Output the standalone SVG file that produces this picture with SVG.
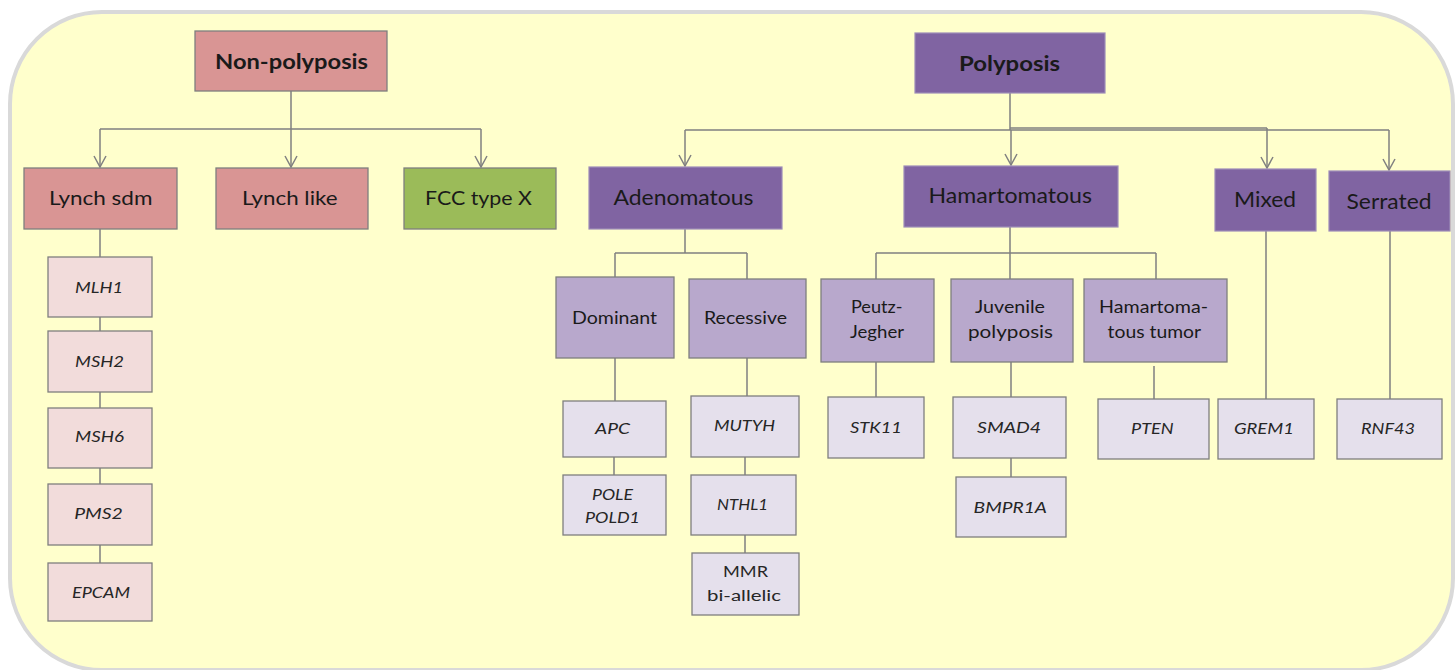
<svg xmlns="http://www.w3.org/2000/svg" width="1456" height="670" viewBox="0 0 1456 670">
<style>
text{font-family:Lato,"Liberation Sans",sans-serif;fill:#1a1a1a;text-anchor:middle}
.t1{font-size:20px}
.tb{font-size:21px;font-weight:bold}
.t2{font-size:17.5px}
.g{font-size:15px;font-style:italic;fill:#262626}
.n{font-size:15.5px;fill:#262626}
.pink{fill:#D99594;stroke:#7f7f7f;stroke-width:1.3}
.green{fill:#9BBB59;stroke:#7f7f7f;stroke-width:1.3}
.pg{fill:#F2DCDB;stroke:#7f7f7f;stroke-width:1.3}
.pur{fill:#8064A2;stroke:#9d8cb8;stroke-width:1.2}
.lav{fill:#B8A8CC;stroke:#7f7f7f;stroke-width:1.3}
.lg{fill:#E5E0EC;stroke:#7f7f7f;stroke-width:1.3}
.c{fill:none;stroke:#808080;stroke-width:1.5}
</style>
<defs>
<marker id="arr" viewBox="-1 -7 13 14" markerWidth="13" markerHeight="14" refX="11" refY="0" orient="auto" markerUnits="userSpaceOnUse">
<path d="M0,-6 L11,0 L0,6" fill="none" stroke="#808080" stroke-width="1.5"/>
</marker>
</defs>
<rect x="0" y="0" width="1456" height="670" fill="#ffffff"/>
<rect id="frame" x="10" y="12" width="1443" height="658" rx="92" ry="92" fill="#FFFFCC" stroke="#D9D9D9" stroke-width="4"/>

<g id="connectors">
<path class="c" d="M291,91 V129 M100,129 H481"/>
<path class="c" d="M100,129 V167" marker-end="url(#arr)"/>
<path class="c" d="M291,129 V167" marker-end="url(#arr)"/>
<path class="c" d="M481,129 V167" marker-end="url(#arr)"/>
<path class="c" d="M100,229 V257 M100,317 V331 M100,392 V408 M100,468 V484 M100,545 V563"/>
<path class="c" d="M1010,93 V130 M685,130 H1389"/>
<path class="c" d="M1010,128 H1267"/>
<path class="c" d="M685,130 V166" marker-end="url(#arr)"/>
<path class="c" d="M1011,130 V165" marker-end="url(#arr)"/>
<path class="c" d="M1267,128 V168" marker-end="url(#arr)"/>
<path class="c" d="M1389,130 V170" marker-end="url(#arr)"/>
<path class="c" d="M685,229 V253 M615,253 H747 M615,253 V277 M747,253 V279"/>
<path class="c" d="M615,358 V401 M614,457 V475"/>
<path class="c" d="M747,358 V396 M745,457 V475 M745,535 V553"/>
<path class="c" d="M1010,227 V279 M876,253 H1156 M876,253 V279 M1156,253 V279"/>
<path class="c" d="M876,362 V397 M1011,362 V397 M1011,458 V477 M1154,366 V399"/>
<path class="c" d="M1266,231 V399 M1390,231 V399"/>
</g>

<g id="non-polyposis"><rect class="pink" x="195" y="31" width="192" height="60"/><text class="tb" x="291.5" y="69.3" textLength="153" lengthAdjust="spacingAndGlyphs">Non-polyposis</text></g>
<g id="lynch-sdm"><rect class="pink" x="24" y="168" width="153" height="61"/><text class="t1" x="100.7" y="205" textLength="103.5" lengthAdjust="spacingAndGlyphs">Lynch sdm</text></g>
<g id="lynch-like"><rect class="pink" x="216" y="168" width="152" height="61"/><text class="t1" x="289.8" y="205" textLength="95.5" lengthAdjust="spacingAndGlyphs">Lynch like</text></g>
<g id="fcc-type-x"><rect class="green" x="404" y="168" width="152" height="61"/><text class="t1" x="478.5" y="205" textLength="107" lengthAdjust="spacingAndGlyphs">FCC type X</text></g>

<g id="mlh1"><rect class="pg" x="48" y="257" width="104" height="60"/><text class="g" x="99" y="293" textLength="48" lengthAdjust="spacingAndGlyphs">MLH1</text></g>
<g id="msh2"><rect class="pg" x="48" y="331" width="104" height="61"/><text class="g" x="99.5" y="366.7" textLength="49" lengthAdjust="spacingAndGlyphs">MSH2</text></g>
<g id="msh6"><rect class="pg" x="48" y="408" width="104" height="60"/><text class="g" x="99.5" y="441.7" textLength="49" lengthAdjust="spacingAndGlyphs">MSH6</text></g>
<g id="pms2"><rect class="pg" x="48" y="484" width="104" height="61"/><text class="g" x="98.5" y="519" textLength="48.7" lengthAdjust="spacingAndGlyphs">PMS2</text></g>
<g id="epcam"><rect class="pg" x="48" y="563" width="104" height="58"/><text class="g" x="101" y="597.7" textLength="58" lengthAdjust="spacingAndGlyphs">EPCAM</text></g>

<g id="polyposis"><rect class="pur" x="915" y="33" width="190" height="60"/><text class="tb" x="1009.5" y="70.7" textLength="101" lengthAdjust="spacingAndGlyphs">Polyposis</text></g>
<g id="adenomatous"><rect class="pur" x="589" y="167" width="193" height="62"/><text class="t1" x="683.5" y="205" textLength="140" lengthAdjust="spacingAndGlyphs" style="font-size:21px">Adenomatous</text></g>
<g id="hamartomatous"><rect class="pur" x="904" y="166" width="214" height="61"/><text class="t1" x="1010.3" y="203" textLength="163.4" lengthAdjust="spacingAndGlyphs" style="font-size:21px">Hamartomatous</text></g>
<g id="mixed"><rect class="pur" x="1215" y="169" width="101" height="62"/><text class="t1" x="1265" y="207" textLength="62" lengthAdjust="spacingAndGlyphs" style="font-size:21px">Mixed</text></g>
<g id="serrated"><rect class="pur" x="1329" y="171" width="121" height="60"/><text class="t1" x="1389" y="209" textLength="85" lengthAdjust="spacingAndGlyphs" style="font-size:21px">Serrated</text></g>

<g id="dominant"><rect class="lav" x="556" y="277" width="118" height="81"/><text class="t2" x="614.5" y="324.3" textLength="85" lengthAdjust="spacingAndGlyphs">Dominant</text></g>
<g id="recessive"><rect class="lav" x="689" y="279" width="117" height="79"/><text class="t2" x="745.5" y="324" textLength="83" lengthAdjust="spacingAndGlyphs">Recessive</text></g>
<g id="apc"><rect class="lg" x="563" y="401" width="103" height="56"/><text class="g" x="612.5" y="434" textLength="35" lengthAdjust="spacingAndGlyphs">APC</text></g>
<g id="pole-pold1"><rect class="lg" x="563" y="475" width="103" height="60"/><text class="g" x="612.5" y="500" textLength="41" lengthAdjust="spacingAndGlyphs">POLE</text><text class="g" x="612.5" y="523" textLength="55" lengthAdjust="spacingAndGlyphs">POLD1</text></g>
<g id="mutyh"><rect class="lg" x="691" y="396" width="108" height="61"/><text class="g" x="744.5" y="431" textLength="61" lengthAdjust="spacingAndGlyphs">MUTYH</text></g>
<g id="nthl1"><rect class="lg" x="691" y="475" width="105" height="60"/><text class="g" x="742.5" y="510" textLength="51" lengthAdjust="spacingAndGlyphs">NTHL1</text></g>
<g id="mmr"><rect class="lg" x="692" y="553" width="107" height="62"/><text class="n" x="745.5" y="577" textLength="45" lengthAdjust="spacingAndGlyphs">MMR</text><text class="n" x="744" y="601" textLength="74" lengthAdjust="spacingAndGlyphs">bi-allelic</text></g>

<g id="peutz-jegher"><rect class="lav" x="821" y="279" width="113" height="83"/><text class="t2" x="876.7" y="313" textLength="51.5" lengthAdjust="spacingAndGlyphs">Peutz-</text><text class="t2" x="877" y="338" textLength="54" lengthAdjust="spacingAndGlyphs">Jegher</text></g>
<g id="juvenile"><rect class="lav" x="951" y="279" width="122" height="83"/><text class="t2" x="1010" y="313" textLength="70" lengthAdjust="spacingAndGlyphs">Juvenile</text><text class="t2" x="1010.5" y="338" textLength="85" lengthAdjust="spacingAndGlyphs">polyposis</text></g>
<g id="hamartomatous-tumor"><rect class="lav" x="1084" y="279" width="143" height="83"/><text class="t2" x="1153.5" y="313" textLength="109" lengthAdjust="spacingAndGlyphs">Hamartoma-</text><text class="t2" x="1154.3" y="338" textLength="93.5" lengthAdjust="spacingAndGlyphs">tous tumor</text></g>
<g id="stk11"><rect class="lg" x="828" y="397" width="96" height="61"/><text class="g" x="876" y="433" textLength="52" lengthAdjust="spacingAndGlyphs">STK11</text></g>
<g id="smad4"><rect class="lg" x="953" y="397" width="113" height="61"/><text class="g" x="1009" y="433" textLength="64" lengthAdjust="spacingAndGlyphs">SMAD4</text></g>
<g id="bmpr1a"><rect class="lg" x="956" y="477" width="110" height="60"/><text class="g" x="1010.3" y="512.7" textLength="73.4" lengthAdjust="spacingAndGlyphs">BMPR1A</text></g>
<g id="pten"><rect class="lg" x="1098" y="399" width="111" height="60"/><text class="g" x="1152.3" y="434" textLength="42.6" lengthAdjust="spacingAndGlyphs">PTEN</text></g>
<g id="grem1"><rect class="lg" x="1218" y="399" width="96" height="60"/><text class="g" x="1264" y="434" textLength="60" lengthAdjust="spacingAndGlyphs">GREM1</text></g>
<g id="rnf43"><rect class="lg" x="1337" y="399" width="105" height="60"/><text class="g" x="1388" y="434" textLength="54" lengthAdjust="spacingAndGlyphs">RNF43</text></g>
</svg>
